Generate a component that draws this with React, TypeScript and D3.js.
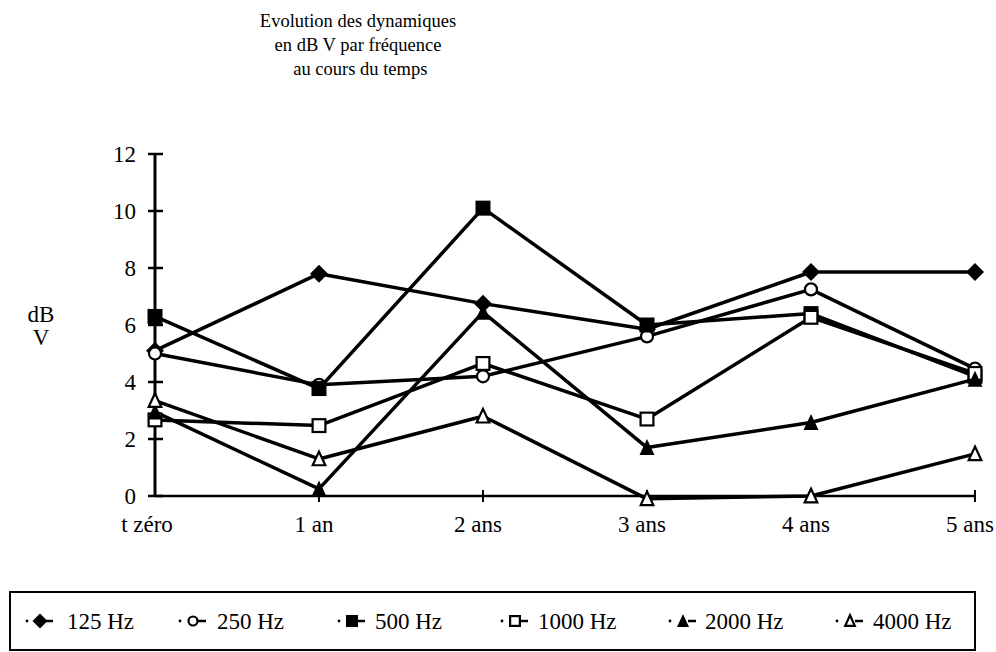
import React from "react";
import * as d3 from "d3";

const categories = ["t zéro", "1 an", "2 ans", "3 ans", "4 ans", "5 ans"];
const seriesNames = ["125 Hz", "250 Hz", "500 Hz", "1000 Hz", "2000 Hz", "4000 Hz"];
const s125 = [5.1, 7.8, 6.75, 5.85, 7.86, 7.86];
const s250 = [5.0, 3.9, 4.2, 5.6, 7.25, 4.47];
const s500 = [6.3, 3.77, 10.1, 6.0, 6.4, 4.2];
const s1000 = [2.67, 2.47, 4.65, 2.7, 6.27, 4.3];
const s2000 = [2.95, 0.25, 6.45, 1.7, 2.58, 4.1];
const s4000 = [3.35, 1.3, 2.8, -0.1, 0.0, 1.48];
const yTicks = [0, 2, 4, 6, 8, 10, 12];
const titleLines = ["Evolution des dynamiques", "en dB V par fréquence", " au cours du temps"];
const yLabelLines = ["dB", "V"];

type Shape = "diamond" | "circle" | "square" | "triangle";
const markerDefs: { shape: Shape; filled: boolean }[] = [
  { shape: "diamond", filled: true },
  { shape: "circle", filled: false },
  { shape: "square", filled: true },
  { shape: "square", filled: false },
  { shape: "triangle", filled: true },
  { shape: "triangle", filled: false },
];

const FONT = "Liberation Serif, Times New Roman, Times, serif";

function Marker({ x, y, shape, filled, s }: { x: number; y: number; shape: Shape; filled: boolean; s: number }) {
  const fill = filled ? "#000" : "#fff";
  const sw = 2.2;
  if (shape === "square") {
    const k = filled ? 0 : 1.1;
    const h = s / 2;
    return <rect x={x - h + k} y={y - h + k} width={s - 2 * k} height={s - 2 * k} fill={fill} stroke="#000" strokeWidth={filled ? 0 : sw} />;
  }
  if (shape === "circle") {
    return <circle cx={x} cy={y} r={s / 2 - 1.5} fill={fill} stroke="#000" strokeWidth={sw} />;
  }
  if (shape === "diamond") {
    const hh = filled ? s / 2 + 1.5 : s / 2;
    return <path d={`M${x},${y - hh}L${x + hh},${y}L${x},${y + hh}L${x - hh},${y}Z`} fill={fill} stroke="#000" strokeWidth={filled ? 0 : sw} />;
  }
  const h = s / 2;
  const k = filled ? 0 : 1.2;
  return <path d={`M${x},${y - h - 1 + k}L${x + h - k},${y + h - k}L${x - h + k},${y + h - k}Z`} fill={fill} stroke="#000" strokeWidth={filled ? 0 : sw} strokeLinejoin="miter" />;
}

export default function App() {
  const series = [s125, s250, s500, s1000, s2000, s4000];
  const x = d3.scalePoint<string>().domain(categories).range([155, 975]);
  const y = d3.scaleLinear().domain([0, 12]).range([496, 154]);
  const line = d3
    .line<number>()
    .x((_, i) => x(categories[i]) as number)
    .y((d) => y(d));

  const legendCenters = [40, 193, 352, 515, 683, 850];
  const legendTextX = [67, 217, 375, 538, 705, 873];

  return (
    <svg width={996} height={652} style={{ position: "absolute", left: 0, top: 0, background: "#fff" }}>
      <rect x={0} y={0} width={996} height={652} fill="#fff" />
      {titleLines.map((t, i) => (
        <text key={i} x={358} y={27 + i * 24} textAnchor="middle" fontFamily={FONT} fontSize={18.5} fill="#000" style={{ whiteSpace: "pre" }}>
          {t}
        </text>
      ))}
      {yLabelLines.map((t, i) => (
        <text key={i} x={41} y={322 + i * 23} textAnchor="middle" fontFamily={FONT} fontSize={23} fill="#000">
          {t}
        </text>
      ))}
      <line x1={155} x2={155} y1={y(12)} y2={y(0)} stroke="#000" strokeWidth={3} />
      <line x1={155} x2={975} y1={y(0)} y2={y(0)} stroke="#000" strokeWidth={2.5} />
      {yTicks.map((t) => (
        <g key={t}>
          <line x1={148} x2={163} y1={y(t)} y2={y(t)} stroke="#000" strokeWidth={2.5} />
          <text x={136} y={y(t) + 8} textAnchor="end" fontFamily={FONT} fontSize={23} fill="#000">
            {t}
          </text>
        </g>
      ))}
      {categories.map((c, i) => (
        <g key={c}>
          {i > 0 && <line x1={x(c)} x2={x(c)} y1={y(0) - 6} y2={y(0) + 6} stroke="#000" strokeWidth={2} />}
          <text x={(x(c) as number) - (i === 0 ? 8 : 5)} y={532} textAnchor="middle" fontFamily={FONT} fontSize={23} fill="#000">
            {c}
          </text>
        </g>
      ))}
      {series.map((s, si) => (
        <path key={si} d={line(s) || ""} fill="none" stroke="#000" strokeWidth={3.5} strokeLinejoin="round" />
      ))}
      {series.map((s, si) =>
        s.map((v, i) => (
          <Marker key={`${si}-${i}`} x={x(categories[i]) as number} y={y(v)} shape={markerDefs[si].shape} filled={markerDefs[si].filled} s={15} />
        ))
      )}
      <rect x={10} y={592} width={965} height={58} fill="none" stroke="#000" strokeWidth={2} />
      {seriesNames.map((n, i) => (
        <g key={n}>
          <circle cx={legendCenters[i] - 13} cy={621} r={1.4} fill="#000" />
          <line x1={legendCenters[i] + 5} x2={legendCenters[i] + 13} y1={621} y2={621} stroke="#000" strokeWidth={2.5} />
          <Marker x={legendCenters[i]} y={621} shape={markerDefs[i].shape} filled={markerDefs[i].filled} s={12} />
          <text x={legendTextX[i]} y={629} fontFamily={FONT} fontSize={23} fill="#000">
            {n}
          </text>
        </g>
      ))}
    </svg>
  );
}
